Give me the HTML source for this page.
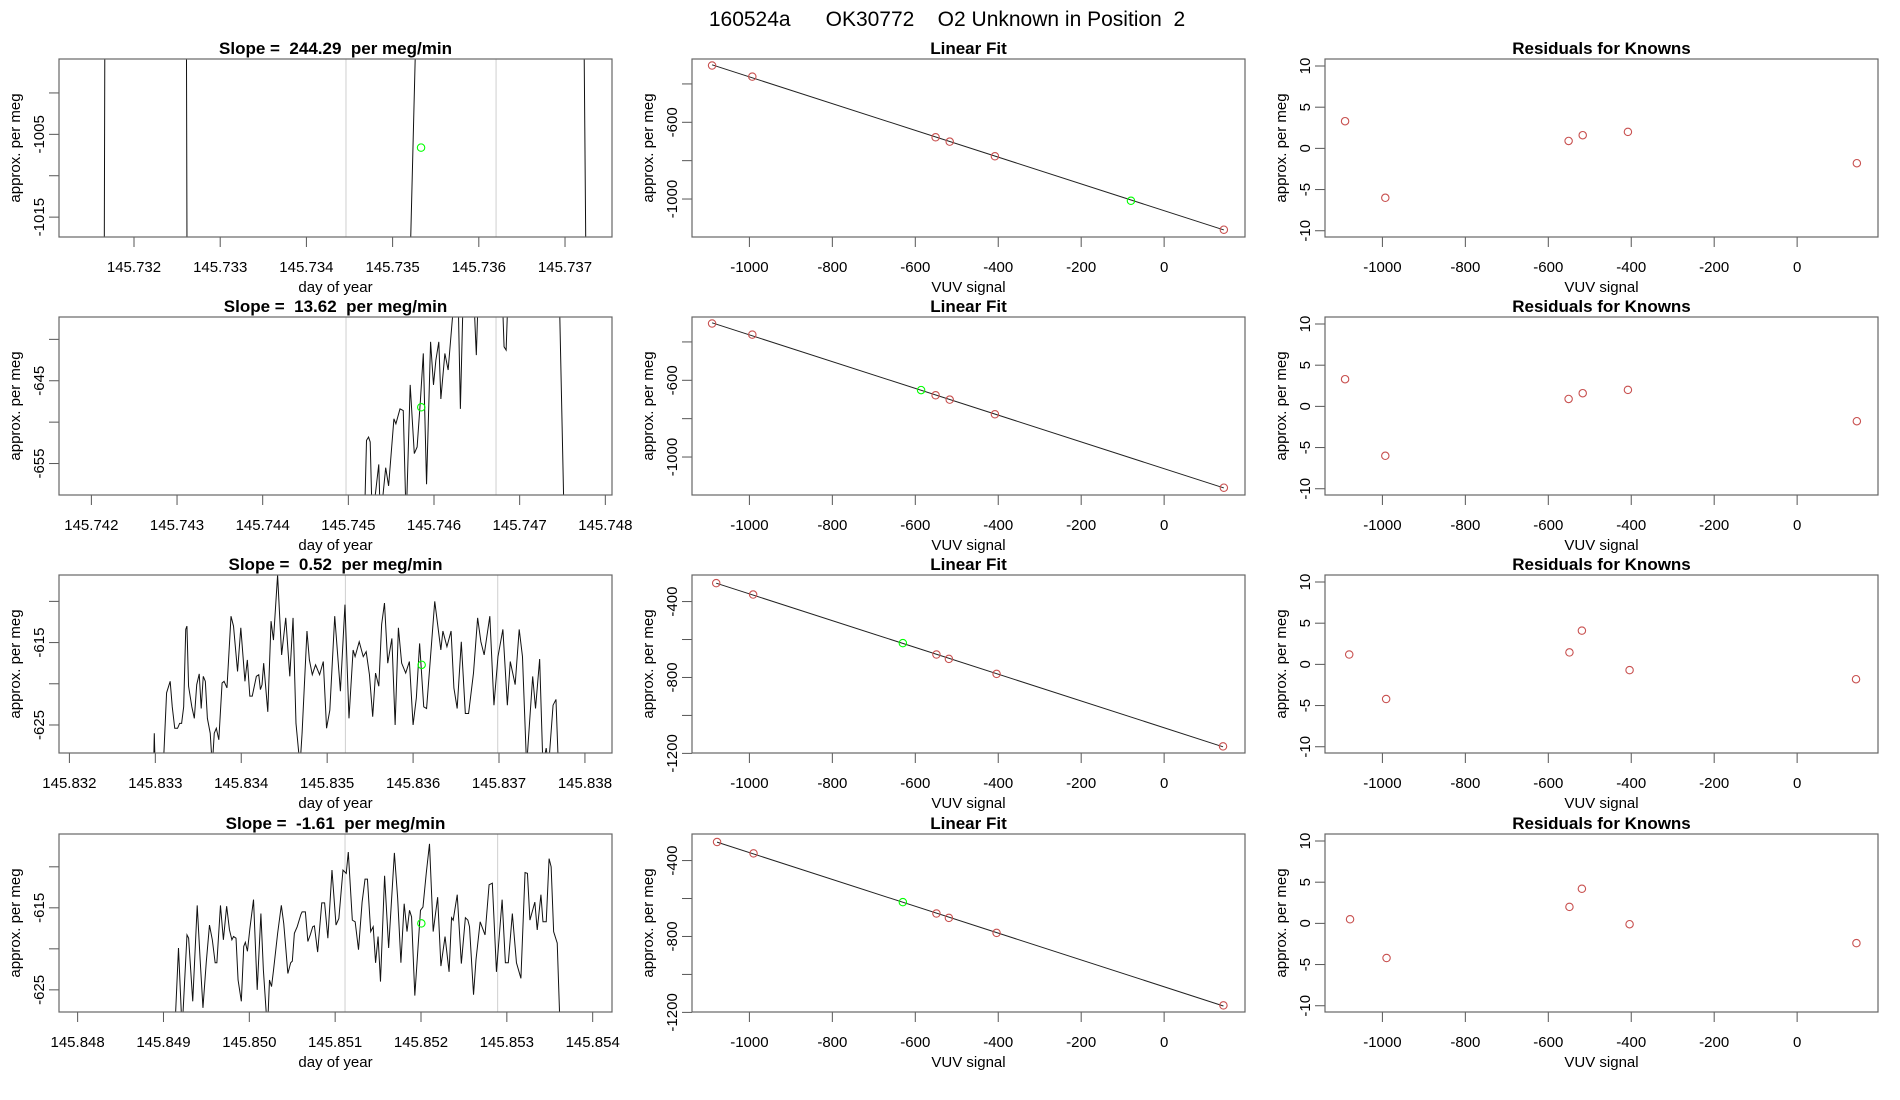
<!DOCTYPE html>
<html><head><meta charset="utf-8"><title>160524a OK30772 O2 Unknown in Position 2</title>
<style>html,body{margin:0;padding:0;background:#fff;}svg{display:block;font-family:"Liberation Sans",Arial,sans-serif;}</style>
</head><body>
<svg id="fig" width="1900" height="1100" viewBox="0 0 1900 1100" xmlns="http://www.w3.org/2000/svg">
<rect x="0" y="0" width="1900" height="1100" fill="#fff"/>
<text x="947" y="26" font-size="21" text-anchor="middle" xml:space="preserve" style="white-space:pre">160524a      OK30772    O2 Unknown in Position  2</text>
</svg>
<script>
// ---------- time series data (column 1) ----------
const slopeLabels = ["244.29", "13.62", "0.52", "-1.61"];
const tsDomainX1 = [145.73113, 145.737545];
const tsDomainX2 = [145.741622, 145.748078];
const tsDomainX3 = [145.831879, 145.838315];
const tsDomainX4 = [145.847783, 145.854225];
const tsDomainY1 = [-1017.4, -995.9];
const tsDomainY2 = [-658.8, -637.3];
const tsDomainY3 = [-628.4, -606.8];
const tsDomainY4 = [-627.7, -606.0];
const tsTicksX1 = [145.732, 145.733, 145.734, 145.735, 145.736, 145.737];
const tsTicksX2 = [145.742, 145.743, 145.744, 145.745, 145.746, 145.747, 145.748];
const tsTicksX3 = [145.832, 145.833, 145.834, 145.835, 145.836, 145.837, 145.838];
const tsTicksX4 = [145.848, 145.849, 145.850, 145.851, 145.852, 145.853, 145.854];
const tsTickLabelsX1 = ["145.732","145.733","145.734","145.735","145.736","145.737"];
const tsTickLabelsX2 = ["145.742","145.743","145.744","145.745","145.746","145.747","145.748"];
const tsTickLabelsX3 = ["145.832","145.833","145.834","145.835","145.836","145.837","145.838"];
const tsTickLabelsX4 = ["145.848","145.849","145.850","145.851","145.852","145.853","145.854"];
const tsTicksY1 = [-1000, -1005, -1010, -1015];
const tsTickLabelsY1 = ["", "-1005", "", "-1015"];
const tsTicksY2 = [-640, -645, -650, -655];
const tsTickLabelsY2 = ["", "-645", "", "-655"];
const tsTicksY3 = [-610, -615, -620, -625];
const tsTickLabelsY3 = ["", "-615", "", "-625"];
const tsTicksY4 = [-610, -615, -620, -625];
const tsTickLabelsY4 = ["", "-615", "", "-625"];
const grayLines1 = [145.734459, 145.736200];
const grayLines2 = [145.744973, 145.746724];
const grayLines3 = [145.835212, 145.836985];
const grayLines4 = [145.851115, 145.852893];
const unkT = [145.73533, 145.745851, 145.836100, 145.852004];
const unkV = [-1006.6, -648.2, -617.7, -616.9];

const t1 = [145.7310,145.73165,145.73167,145.7326,145.73262,145.73518,145.73530,145.73721,145.73725,145.7377];
const v1 = [-1040,-1040,-960,-960,-1040,-1030,-980,-980,-1030,-1040];

const t2 = [145.745180,145.745188,145.745212,145.745236,145.745255,145.745279,145.745355,145.745374,145.745436,145.745470,145.745532,145.745555,145.745603,145.745641,145.745675,145.745722,145.745770,145.745803,145.745841,145.745875,145.745913,145.745960,145.745994,145.746022,145.746056,145.746080,145.746127,145.746165,145.746213,145.746247,145.746280,145.746308,145.746342,145.746461,145.746494,145.746518,145.746795,145.746818,145.746842,145.746866,145.747462,145.747519,145.7479];
const v2 = [-662,-662,-652.2,-651.8,-652.4,-662,-655.1,-662,-655.5,-657.7,-649.6,-650.2,-648.4,-648.6,-662,-645.5,-653.8,-653.0,-647.4,-641.7,-657.5,-640.3,-645.5,-642.5,-640.3,-647.2,-641.7,-643.7,-637.7,-634,-634,-648.4,-634,-634,-641.9,-634,-634,-640.9,-641.3,-634,-634,-662,-662];

const t3 = [145.832980,145.832988,145.832998,145.833093,145.833131,145.833173,145.833197,145.833226,145.833259,145.833283,145.833306,145.833330,145.833354,145.833368,145.833387,145.833425,145.833454,145.833482,145.833511,145.833534,145.833558,145.833582,145.833606,145.833639,145.833663,145.833686,145.833710,145.833739,145.833777,145.833800,145.833834,145.833881,145.833910,145.833957,145.833995,145.834043,145.834071,145.834100,145.834128,145.834176,145.834204,145.834223,145.834242,145.834261,145.834309,145.834347,145.834375,145.834423,145.834470,145.834518,145.834565,145.834603,145.834637,145.834684,145.834708,145.834765,145.834793,145.834827,145.834865,145.834912,145.834955,145.834993,145.835031,145.835088,145.835154,145.835207,145.835254,145.835302,145.835325,145.835373,145.835420,145.835454,145.835492,145.835530,145.835563,145.835601,145.835634,145.835667,145.835705,145.835753,145.835791,145.835829,145.835867,145.835914,145.835957,145.836000,145.836038,145.836076,145.836124,145.836157,145.836190,145.836252,145.836323,145.836347,145.836394,145.836442,145.836475,145.836513,145.836561,145.836608,145.836646,145.836703,145.836751,145.836789,145.836827,145.836893,145.836941,145.836988,145.837045,145.837097,145.837131,145.837188,145.837235,145.837273,145.837321,145.837392,145.837425,145.837473,145.837511,145.837549,145.837577,145.837629,145.837663,145.837691];
const v3 = [-630,-626.0,-630,-630,-621.1,-619.7,-622.8,-625.4,-625.4,-624.8,-624.8,-622.8,-613.4,-613.0,-620.3,-622.8,-624.2,-620.1,-618.8,-623.0,-619.1,-619.7,-624.2,-626.0,-630,-626.0,-625.4,-626.8,-619.9,-619.7,-620.5,-611.8,-613.0,-618.5,-613.2,-619.7,-617.1,-621.5,-621.5,-619.1,-618.9,-620.7,-620.1,-617.5,-623.4,-612.4,-614.7,-606.8,-616.5,-612.0,-619.1,-612.0,-624.8,-630,-626.0,-613.6,-617.1,-618.9,-617.7,-618.9,-617.3,-625.4,-623.2,-611.8,-620.9,-610.4,-624.2,-615.9,-616.7,-614.9,-616.7,-616.1,-618.9,-624.0,-618.7,-620.3,-612.8,-610.2,-617.5,-614.5,-625.0,-613.2,-617.5,-618.7,-617.3,-625.0,-621.7,-615.1,-622.8,-623.0,-618.5,-610.0,-615.9,-613.6,-615.5,-613.6,-620.5,-623.0,-614.9,-623.6,-623.6,-618.7,-612.0,-614.9,-616.5,-611.8,-622.6,-616.7,-613.4,-622.6,-617.3,-620.1,-613.4,-616.7,-630,-619.1,-623.0,-617.0,-630,-627.8,-630,-622.6,-621.9,-630];

const t4 = [145.849022,145.849132,145.849175,145.849217,145.849274,145.849293,145.849341,145.849393,145.849427,145.849460,145.849498,145.849536,145.849569,145.849602,145.849622,145.849664,145.849698,145.849736,145.849769,145.849797,145.849816,145.849845,145.849869,145.849907,145.849935,145.849954,145.849978,145.850007,145.850049,145.850092,145.850135,145.850164,145.850211,145.850235,145.850259,145.850282,145.850330,145.850373,145.850401,145.850449,145.850482,145.850501,145.850525,145.850558,145.850601,145.850615,145.850653,145.850682,145.850710,145.850739,145.850758,145.850796,145.850844,145.850877,145.850915,145.850963,145.851010,145.851043,145.851091,145.851129,145.851153,145.851200,145.851233,145.851272,145.851314,145.851348,145.851376,145.851414,145.851443,145.851471,145.851500,145.851528,145.851576,145.851623,145.851690,145.851728,145.851766,145.851804,145.851837,145.851866,145.851890,145.851928,145.851956,145.851994,145.852023,145.852061,145.852099,145.852142,145.852194,145.852232,145.852280,145.852327,145.852356,145.852375,145.852422,145.852470,145.852517,145.852546,145.852565,145.852612,145.852641,145.852689,145.852746,145.852793,145.852831,145.852879,145.852945,145.852983,145.853017,145.853064,145.853112,145.853164,145.853212,145.853240,145.853269,145.853326,145.853354,145.853397,145.853421,145.853459,145.853492,145.853516,145.853545,145.853587,145.853621,145.8537];
const v4 = [-630,-630,-619.9,-630,-618.3,-618.7,-626.4,-614.7,-621.3,-627.2,-621.7,-617.1,-618.9,-621.7,-621.7,-614.7,-618.9,-614.8,-617.7,-618.9,-618.5,-618.7,-623.8,-626.4,-619.7,-619.2,-620.3,-617.5,-614.0,-625.0,-615.7,-622.6,-630,-623.8,-624.6,-622.6,-618.1,-614.7,-616.9,-623.0,-621.7,-621.5,-618.1,-617.3,-615.8,-615.5,-615.5,-619.1,-618.3,-617.3,-617.2,-620.4,-614.4,-614.4,-618.7,-610.4,-617.1,-616.3,-610.4,-610.8,-608.2,-616.5,-616.7,-620.1,-614.3,-611.5,-611.5,-617.9,-617.3,-621.7,-618.5,-624.0,-611.1,-619.9,-608.3,-613.8,-621.7,-614.5,-617.9,-615.3,-616.1,-625.7,-621.3,-615.3,-614.9,-610.8,-607.2,-617.9,-613.7,-622.1,-618.5,-622.8,-616.2,-616.5,-613.4,-621.8,-616.2,-616.5,-617.3,-625.6,-621.3,-616.7,-618.3,-612.2,-612.0,-622.8,-614.0,-621.7,-621.7,-615.7,-621.7,-623.6,-610.7,-610.8,-616.5,-614.3,-617.7,-613.4,-616.7,-616.7,-609.0,-610.0,-617.9,-619.3,-630,-630];

// ---------- calibration data (columns 2 and 3) ----------
const fitDomainX = [-1138.4, 195];
const fitDomainY12 = [-1198, -270];
const fitDomainY34 = [-1198, -260];
const fitTicksX = [-1000, -800, -600, -400, -200, 0];
const fitTickLabelsX = ["-1000", "-800", "-600", "-400", "-200", "0"];
const fitTicksY12 = [-400, -600, -800, -1000];
const fitTickLabelsY12 = ["", "-600", "", "-1000"];
const fitTicksY34 = [-400, -600, -800, -1000, -1200];
const fitTickLabelsY34 = ["-400", "", "-800", "", "-1200"];
const knownX1 = [-1090, -993, -551, -517, -408, 144];
const knownY1 = [-304, -362, -678, -701, -777, -1160];
const knownX2 = [-1090, -993, -551, -517, -408, 144];
const knownY2 = [-304, -362, -678, -701, -777, -1160];
const knownX3 = [-1080, -991, -549, -519, -404, 142];
const knownY3 = [-303, -363, -679, -702, -781, -1163];
const knownX4 = [-1078, -990, -549, -519, -404, 143];
const knownY4 = [-302, -362, -679, -702, -781, -1163];
const unknownSigX = [-80, -586, -630, -630];
const unknownSigY = [-1009, -651, -619, -619];
const resDomainY = [-10.76, 10.85];
const resTicksY = [10, 5, 0, -5, -10];
const resTickLabelsY = ["10", "5", "0", "-5", "-10"];
const resid1 = [3.3, -6.0, 0.9, 1.6, 2.0, -1.8];
const resid2 = [3.3, -6.0, 0.9, 1.6, 2.0, -1.8];
const resid3 = [1.2, -4.2, 1.45, 4.1, -0.7, -1.8];
const resid4 = [0.5, -4.2, 2.0, 4.2, -0.1, -2.4];

const NS = "http://www.w3.org/2000/svg";
const svg = document.getElementById("fig");
const PW = 553, PH = 178;
const rowTop = [59, 317, 575, 834];
const KNOWN_COL = "#c8504f", UNK_COL = "#00ff00";

function el(tag, attrs, parent) {
  const e = document.createElementNS(NS, tag);
  for (const k in attrs) e.setAttribute(k, attrs[k]);
  (parent || svg).appendChild(e);
  return e;
}
function txt(str, attrs, parent) { const e = el("text", attrs, parent); e.textContent = str; return e; }

function makePanel(col, row, dx, dy, title, xl, yl) {
  const x0 = 59 + 633 * col, y0 = rowTop[row];
  const g = el("g", {});
  
  
  const sx = v => x0 + (v - dx[0]) / (dx[1] - dx[0]) * PW;
  const sy = v => y0 + PH - (v - dy[0]) / (dy[1] - dy[0]) * PH;
  const cid = "clip" + row + "_" + col;
  const cp = el("clipPath", { id: cid }, g);
  el("rect", { x: x0, y: y0, width: PW, height: PH }, cp);
  const t = txt(title, { x: x0 + PW / 2, y: y0 - 5, "font-size": 17, "font-weight": "bold", "text-anchor": "middle", "xml:space": "preserve", style: "white-space:pre" }, g);
  
  
  const xt = txt(xl, { x: x0 + PW / 2, y: y0 + PH + 55, "font-size": 15, "text-anchor": "middle" }, g);
  
  
  const yt = txt(yl, { x: 0, y: 0, "font-size": 15, "text-anchor": "middle", transform: "translate(" + (x0 - 39) + "," + (y0 + PH / 2) + ") rotate(-90)" }, g);
  
  
  const plot = el("g", { "clip-path": "url(#" + cid + ")" }, g);
  
  
  return { g, plot, sx, sy, x0, y0 };
}
function drawAxes(p, xt, xlab, yt, ylab) {
  const b = p.y0 + PH;
  const ax = el("line", { x1: p.sx(xt[0]), x2: p.sx(xt[xt.length - 1]), y1: b, y2: b, stroke: "#000", "stroke-width": 1 }, p.g);
  
  
  xt.forEach((v, i) => {
    const x = p.sx(v);
    const tk = el("line", { x1: x, x2: x, y1: b, y2: b + 10, stroke: "#555" }, p.g);
    
    
    const lb = txt(xlab[i], { x: x, y: b + 35, "font-size": 15, "text-anchor": "middle" }, p.g);
    
    
  });
  yt.forEach((v, i) => {
    const y = p.sy(v);
    const tk = el("line", { x1: p.x0 - 10, x2: p.x0, y1: y, y2: y, stroke: "#555" }, p.g);
    
    
    if (ylab[i] !== "") {
      const lb = txt(ylab[i], { x: 0, y: 0, "font-size": 15, "text-anchor": "middle", transform: "translate(" + (p.x0 - 15) + "," + y + ") rotate(-90)" }, p.g);
      
      
    }
  });
  const box = el("rect", { x: p.x0, y: p.y0, width: PW, height: PH, fill: "none", stroke: "#666", "stroke-width": 1.2 }, p.g);
  
  
}
function circle(p, x, y, color, name) {
  const c = el("circle", { cx: p.sx(x), cy: p.sy(y), r: 3.7, fill: "none", stroke: color, "stroke-width": 1.1 }, p.plot);
  
  
}

const tsT = [t1, t2, t3, t4], tsV = [v1, v2, v3, v4];
const tsDX = [tsDomainX1, tsDomainX2, tsDomainX3, tsDomainX4];
const tsDY = [tsDomainY1, tsDomainY2, tsDomainY3, tsDomainY4];
const tsTX = [tsTicksX1, tsTicksX2, tsTicksX3, tsTicksX4];
const tsLX = [tsTickLabelsX1, tsTickLabelsX2, tsTickLabelsX3, tsTickLabelsX4];
const tsTY = [tsTicksY1, tsTicksY2, tsTicksY3, tsTicksY4];
const tsLY = [tsTickLabelsY1, tsTickLabelsY2, tsTickLabelsY3, tsTickLabelsY4];
const grays = [grayLines1, grayLines2, grayLines3, grayLines4];
const kX = [knownX1, knownX2, knownX3, knownX4], kY = [knownY1, knownY2, knownY3, knownY4];
const res = [resid1, resid2, resid3, resid4];

for (let r = 0; r < 4; r++) {
  const p = makePanel(0, r, tsDX[r], tsDY[r], "Slope =  " + slopeLabels[r] + "  per meg/min", "day of year", "approx. per meg");
  grays[r].forEach(g => {
    const l = el("line", { x1: p.sx(g), x2: p.sx(g), y1: p.y0, y2: p.y0 + PH, stroke: "#cfcfcf", "stroke-width": 1 }, p.plot);
    
    
  });
  const pts = tsT[r].map((t, i) => p.sx(t).toFixed(2) + "," + p.sy(tsV[r][i]).toFixed(2)).join(" ");
  const pl = el("polyline", { points: pts, fill: "none", stroke: "#111", "stroke-width": 1 }, p.plot);
  
  
  circle(p, unkT[r], unkV[r], UNK_COL, "unknown-mean-point");
  drawAxes(p, tsTX[r], tsLX[r], tsTY[r], tsLY[r]);

  const dY = r < 2 ? fitDomainY12 : fitDomainY34;
  const q = makePanel(1, r, fitDomainX, dY, "Linear Fit", "VUV signal", "approx. per meg");
  const xs = kX[r], ys = kY[r], n = xs.length;
  const mx = xs.reduce((a, b) => a + b, 0) / n, my = ys.reduce((a, b) => a + b, 0) / n;
  let sxy = 0, sxx = 0;
  for (let i = 0; i < n; i++) { sxy += (xs[i] - mx) * (ys[i] - my); sxx += (xs[i] - mx) ** 2; }
  const b1 = sxy / sxx, b0 = my - b1 * mx;
  const xmin = Math.min(...xs), xmax = Math.max(...xs);
  const fl = el("line", { x1: q.sx(xmin), y1: q.sy(b0 + b1 * xmin), x2: q.sx(xmax), y2: q.sy(b0 + b1 * xmax), stroke: "#222", "stroke-width": 1 }, q.plot);
  
  
  for (let i = 0; i < n; i++) circle(q, xs[i], ys[i], KNOWN_COL, "known-point");
  circle(q, unknownSigX[r], unknownSigY[r], UNK_COL, "unknown-point");
  drawAxes(q, fitTicksX, fitTickLabelsX, r < 2 ? fitTicksY12 : fitTicksY34, r < 2 ? fitTickLabelsY12 : fitTickLabelsY34);

  const s = makePanel(2, r, fitDomainX, resDomainY, "Residuals for Knowns", "VUV signal", "approx. per meg");
  for (let i = 0; i < n; i++) circle(s, xs[i], res[r][i], KNOWN_COL, "residual-point");
  drawAxes(s, fitTicksX, fitTickLabelsX, resTicksY, resTickLabelsY);
}
</script>
</body></html>
